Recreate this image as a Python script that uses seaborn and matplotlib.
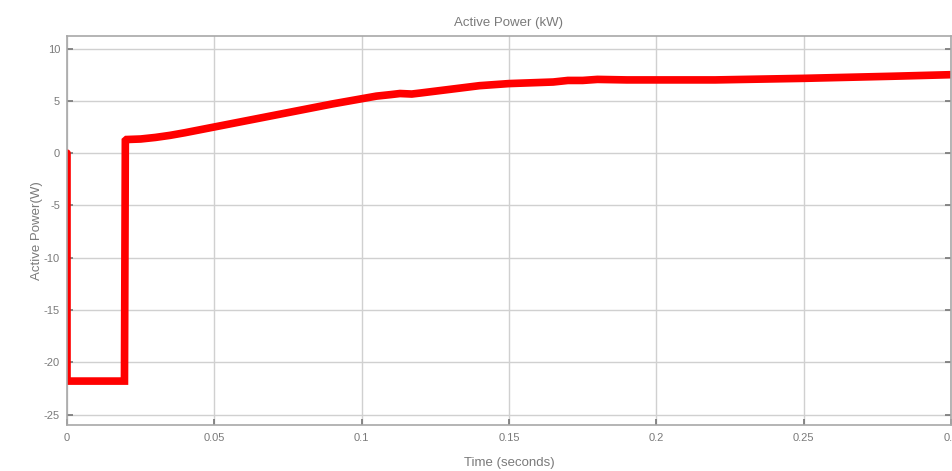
import matplotlib
matplotlib.use("Agg")
import matplotlib.pyplot as plt
import seaborn as sns
import pandas as pd

# Simulated active power response
time_s = [0.0, 0.0, 0.0195, 0.0198, 0.0202, 0.025, 0.03, 0.035, 0.04, 0.05, 0.06,
          0.07, 0.08, 0.09, 0.10, 0.105, 0.11, 0.113, 0.117, 0.12, 0.13, 0.14,
          0.15, 0.16, 0.165, 0.17, 0.175, 0.18, 0.19, 0.20, 0.22, 0.25, 0.28, 0.30]
power = [0.0, -21.8, -21.8, 1.2, 1.3, 1.35, 1.5, 1.7, 1.95, 2.5, 3.05,
         3.6, 4.15, 4.7, 5.2, 5.45, 5.6, 5.7, 5.65, 5.75, 6.1, 6.45,
         6.65, 6.75, 6.8, 6.95, 6.95, 7.05, 7.0, 7.0, 7.0, 7.15, 7.35, 7.5]

x_ticks = [0, 0.05, 0.1, 0.15, 0.2, 0.25, 0.3]
x_labels = ["0", "0.05", "0.1", "0.15", "0.2", "0.25", "0.3"]
y_ticks = [-25, -20, -15, -10, -5, 0, 5, 10]

df = pd.DataFrame({"t": time_s, "p": power})

sns.set_theme(style="whitegrid")
plt.rcParams["font.family"] = ["Liberation Sans Narrow", "Liberation Sans", "DejaVu Sans"]
plt.rcParams["axes.unicode_minus"] = False

fig = plt.figure(figsize=(9.52, 4.71), dpi=100)
ax = fig.add_axes([67 / 952, 1 - 425 / 471, 884 / 952, (425 - 36) / 471])

sns.lineplot(data=df, x="t", y="p", ax=ax, color="#ff0000", linewidth=5.5,
             sort=False, estimator=None, solid_joinstyle="miter")

ax.set_xlim(0, 0.3)
ax.set_ylim(-26, 11.2)
ax.set_xticks(x_ticks)
ax.set_xticklabels(x_labels)
ax.set_yticks(y_ticks)

grey = "#7a7a7a"
ax.grid(True, color="#d0d0d0", linewidth=1.0)
for s in ax.spines.values():
    s.set_color("#a8a8a8")
    s.set_linewidth(1.2)
ax.tick_params(axis="both", colors=grey, labelsize=8, direction="in", length=4,
               left=True, bottom=True, right=True, top=False, pad=5)
ax.tick_params(axis="x", pad=6)

ax.set_title("Active Power (kW)", color=grey, fontsize=9.5, pad=7)
ax.set_xlabel("Time (seconds)", color=grey, fontsize=9.5, labelpad=10)
ax.set_ylabel("Active Power(W)", color=grey, fontsize=9.5, labelpad=1)

fig.savefig("out.png", dpi=100, facecolor="white")
